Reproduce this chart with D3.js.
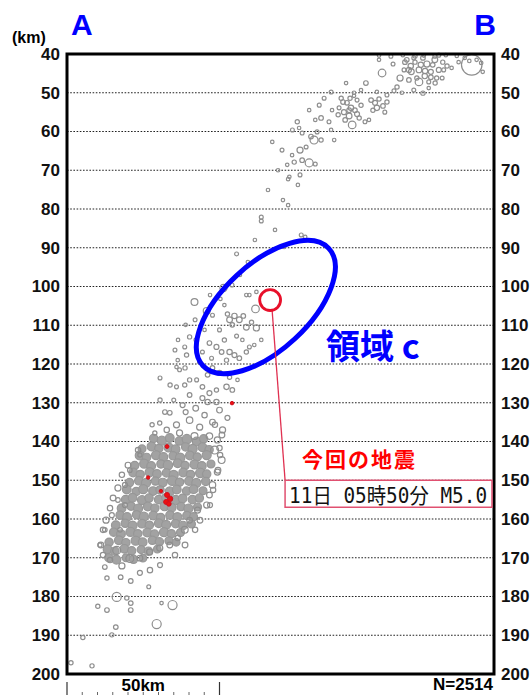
<!DOCTYPE html>
<html>
<head>
<meta charset="utf-8">
<script src="https://cdn.jsdelivr.net/npm/d3@7"></script>
<style>
  body { margin: 0; background: #fff; }
  svg { display: block; }
  .tick-label text { font-family: "Liberation Sans", Arial, sans-serif; font-size: 17px; font-weight: bold; fill: #111; }
</style>
</head>
<body>
<div id="chart"></div>
<script>
// depth ticks (km)
const depthTicks = [40, 50, 60, 70, 80, 90, 100, 110, 120, 130, 140, 150, 160, 170, 180, 190, 200];
const gridDepths = [50, 60, 70, 80, 90, 100, 110, 120, 130, 140, 150, 160, 170, 180, 190];
const eventCount = 2514;

// [distance along A-B (km), depth (km), magnitude]
const shallowEvents = [
  [132.7,42.8,4.9],
  [102.3,41.5,0.3],[103.3,44.9,1.4],[115.4,47.2,1.4],[108.2,48.5,0.5],
  [102.3,40.4,0.3],[106.2,40.6,0.4],[110.1,40.3,0.3],[114.1,40.5,0.5],[117.0,40.4,0.3],[120.6,40.6,0.4],[124.2,40.3,0.3],[127.8,40.5,0.3],
  [111.4,41.5,0.6],[112.7,43.1,0.8],[114.1,42.1,0.5],[115.4,44.1,0.9],[116.7,41.0,0.6],[118.0,42.6,1.0],[119.3,44.6,0.7],[120.6,41.5,0.9],
  [112.1,46.7,0.6],[114.7,46.2,0.5],[117.3,45.7,0.8],[118.6,47.2,0.4],[119.9,42.8,0.6],[121.9,44.1,0.7],[123.2,42.1,0.5],[110.5,44.1,0.4],
  [116.0,42.8,0.8],[121.2,46.2,0.5],[113.7,41.0,0.4],[112.9,44.6,0.9],
  [110.8,42.1,0.6],[112.1,44.1,0.7],[117.4,44.4,0.8],[119.3,46.0,0.6],[120.7,47.5,0.5],[123.0,46.2,0.4],[124.6,43.1,0.5],[109.2,46.2,1.0],[106.9,42.6,0.4],
  [123.5,44.1,0.4],[126.1,43.6,0.3],[128.4,42.1,0.3],[130.4,41.0,0.3],[134.3,41.5,0.3],[136.3,44.6,0.3],[121.9,40.3,0.4],[131.9,41.8,0.3],[135.8,42.3,0.3],
  [98.0,47.5,0.6],
  [86.6,49.8,0.4],[91.5,47.5,0.3],[94.1,50.0,0.3],[96.4,49.3,0.3],[107.2,49.5,0.4],[109.8,50.0,0.3],[113.7,49.3,0.4],[116.7,50.1,0.5],
  [118.6,48.8,0.3],[101.6,49.8,0.3],[104.9,50.6,0.4],
  [89.9,51.4,0.5],[91.8,52.6,0.6],[93.1,53.9,0.8],[90.8,55.0,0.7],[92.5,56.0,0.9],[94.4,54.5,0.6],[95.1,51.9,0.4],[95.8,56.5,0.5],
  [91.2,57.0,0.6],[93.5,58.3,1.4],[97.7,57.5,0.4],[89.2,53.9,0.4],[96.4,53.2,0.5],[94.1,50.8,0.3],
  [90.5,52.4,0.6],[92.8,51.4,0.5],[95.1,55.5,0.7],[92.5,54.5,0.6],[88.9,55.7,0.5],
  [99.7,51.9,0.6],[101.0,52.6,0.7],[102.3,51.6,0.5],[103.6,53.4,0.6],[101.6,53.9,0.8],[104.2,55.0,0.4],[100.3,54.5,0.5],[104.9,52.4,0.5],
  [82.7,53.2,0.4],[79.4,54.5,0.3],[75.5,57.5,0.5],[81.4,57.0,0.3],[85.9,57.5,0.4],[83.3,56.5,0.6],[86.9,54.5,0.3],[84.3,51.4,0.4],[99.0,57.0,0.3],
  [73.9,59.6,0.4],[77.1,60.4,0.4],[86.6,59.6,0.3],[81.0,62.2,1.5],[83.3,62.2,0.5],[78.4,64.0,0.4],[87.6,62.2,0.3],[67.3,62.7,0.3],
  [76.1,59.1,0.3],[82.0,60.1,0.4],[80.0,61.3,0.6],
  [70.5,64.8,0.4],[73.8,66.1,0.3],[76.4,64.8,1.0],
  [74.5,67.9,0.5],[79.4,68.1,1.5],[72.2,68.6,0.3],[77.1,67.4,0.6],[81.4,68.4,0.4],[72.9,71.7,0.3],
  [69.2,70.0,0.3],[75.7,73.8,0.3],[76.4,71.2,0.4],[65.9,75.1,0.3],[70.8,77.7,0.3],
  [72.5,72.3,0.3],[72.5,79.0,0.3],[63.7,82.1,0.4],[63.7,83.1,0.4],[76.8,86.7,0.4],[78.1,87.2,0.3],[71.2,89.8,0.3],[55.6,91.6,0.4],
  [68.2,85.4,0.3],[61.6,88.0,0.3],[59.3,93.7,0.3]
];

const wedgeEvents = [
  [56.7,97.0,0.3],[54.1,99.6,0.4],[46.9,102.2,0.3],
  [51.3,100.4,1.3],[41.8,104.0,1.2],[45.8,106.3,1.2],[50.3,103.2,0.3],[51.6,104.8,0.3],[47.7,107.4,0.4],[61.8,105.8,1.4],[58.8,102.2,0.3],
  [59.8,102.2,0.3],[62.1,101.4,0.3],
  [53.3,108.6,0.9],[54.9,107.6,0.8],[56.5,108.6,0.9],[57.8,107.6,0.6],[58.8,110.5,0.9],[60.5,109.2,0.5],[62.1,110.7,1.0],[52.6,107.1,0.5],
  [54.2,109.9,0.6],[50.0,111.2,0.4],[42.0,108.6,0.4],[38.9,109.9,0.3],
  [40.2,113.0,0.5],[38.6,115.6,0.4],[39.2,117.7,0.5],[42.2,113.8,0.3],[46.7,114.6,0.6],[49.0,115.6,0.7],[50.7,116.9,0.6],[53.3,116.9,0.8],
  [54.9,117.7,0.7],[56.5,118.5,0.6],[52.3,119.0,0.5],[58.8,116.9,0.5],[59.8,115.6,0.4],[35.4,116.4,0.4],[36.4,113.8,0.3],
  [47.7,121.0,0.6],[50.0,122.3,0.7],[53.3,123.4,0.5],[46.1,122.8,0.6],[36.9,121.5,0.4],[43.5,119.5,0.5],[47.4,118.5,0.4],[57.5,113.8,0.3],
  [55.6,112.8,0.4],[63.7,113.8,0.3],[61.4,115.1,0.3],[51.6,113.8,0.5],[45.1,111.2,0.3],[44.4,116.9,0.4],[36.3,119.0,0.3],[35.9,120.8,0.3],
  [38.7,121.0,0.5],[33.8,125.4,0.5],[30.5,123.6,0.4],
  [40.2,124.1,0.5],[44.4,125.9,0.6],[46.7,127.5,0.7],[49.0,126.7,0.5],[52.3,125.9,0.8],[54.2,126.7,0.6],[35.9,125.9,0.4],[40.2,128.0,0.6],
  [44.4,128.8,0.7],[49.0,129.8,0.8],[38.6,125.4,0.5],[42.5,124.1,0.4],[55.9,124.1,0.3],
  [30.5,129.3,0.5],[32.1,132.4,0.6],[27.9,135.7,0.5],
  [33.7,132.6,0.6],[37.9,130.6,0.7],[42.2,131.4,0.9],[46.1,129.8,0.8],[50.0,131.9,0.9],[52.6,133.9,0.7],[30.4,135.2,0.5],[32.7,137.0,0.8],
  [35.9,135.7,1.0],[40.2,134.5,1.1],[43.5,136.3,1.0],[47.7,135.0,0.9],[51.0,137.0,1.0],[36.9,137.8,1.0],[41.8,138.6,1.2],[46.7,138.6,1.1],
  [49.3,139.6,1.0],[28.8,137.8,0.5],[45.1,133.2,0.8],[38.9,132.4,0.7],[35.0,129.3,0.4],[48.5,135.7,0.8],[50.8,138.3,0.9]
];

// densest part of the nest, 139-171 km
const clusterEvents = [
  [28.4,139.2,1.6],[31.1,139.8,1.8],[33.7,139.1,1.7],[36.8,139.9,1.6],[39.3,139.4,1.9],[42.5,140.0,1.7],[44.8,139.3,1.6],
  [24.6,141.9,1.5],[27.7,141.3,1.7],[30.1,141.8,1.6],[33.3,141.5,1.8],[35.6,142.0,1.7],[38.9,141.4,1.6],[41.2,141.9,1.8],[44.4,141.5,1.7],[46.6,142.1,1.6],
  [23.8,143.6,1.7],[26.1,144.1,1.6],[29.2,143.5,1.8],[31.6,144.0,1.7],[34.8,143.7,1.6],[37.1,144.2,1.9],[40.3,143.6,1.7],[42.7,144.0,1.6],[45.8,143.5,1.8],
  [22.2,146.2,1.6],[25.3,145.7,1.8],[27.6,146.3,1.7],[30.8,145.8,1.6],[33.1,146.1,1.9],[36.3,145.6,1.7],[38.7,146.2,1.6],[41.8,145.9,1.8],[44.2,146.3,1.7],[47.2,145.8,1.5],
  [21.7,148.0,1.7],[24.0,148.5,1.6],[27.1,147.9,1.8],[29.5,148.4,1.7],[32.6,148.1,1.6],[35.0,148.6,1.8],[38.1,148.0,1.7],[40.5,148.5,1.6],[43.7,148.1,1.9],[45.8,148.4,1.6],
  [20.5,150.6,1.6],[23.6,150.1,1.7],[25.9,150.7,1.8],[29.0,150.2,1.6],[31.4,150.6,1.7],[34.5,150.1,1.9],[36.9,150.5,1.6],[40.0,150.2,1.7],[42.4,150.7,1.8],[45.5,150.3,1.6],
  [19.6,152.4,1.7],[22.7,152.9,1.6],[25.0,152.3,1.8],[28.2,152.8,1.7],[30.5,152.5,1.6],[33.7,152.9,1.8],[36.0,152.4,1.7],[39.2,152.8,1.6],[41.5,152.3,1.7],[44.6,152.7,1.5],
  [19.2,155.0,1.6],[21.5,154.5,1.7],[24.6,155.1,1.8],[26.9,154.6,1.6],[30.1,155.0,1.7],[32.4,154.5,1.6],[35.6,155.1,1.9],[37.9,154.7,1.7],[41.1,155.0,1.6],[43.4,154.6,1.6],
  [17.9,157.2,1.7],[21.0,156.7,1.6],[23.3,157.3,1.8],[26.5,156.8,1.7],[28.8,157.2,1.6],[32.0,156.7,1.8],[34.3,157.1,1.7],[37.4,156.8,1.6],[39.8,157.3,1.8],[42.8,156.9,1.5],
  [17.4,159.0,1.6],[19.7,159.5,1.7],[22.8,158.9,1.6],[25.2,159.4,1.8],[28.3,159.1,1.7],[30.7,159.6,1.6],[33.8,159.0,1.7],[36.2,159.5,1.8],[39.3,159.1,1.6],[41.5,159.4,1.5],
  [16.0,161.6,1.7],[19.1,161.1,1.6],[21.5,161.7,1.8],[24.6,161.2,1.7],[27.0,161.6,1.6],[30.1,161.1,1.7],[32.5,161.5,1.8],[35.6,161.2,1.6],[38.0,161.7,1.7],[40.8,161.3,1.5],
  [15.3,163.4,1.6],[17.7,163.9,1.7],[20.8,163.3,1.8],[23.2,163.8,1.6],[26.3,163.5,1.7],[28.7,163.9,1.6],[31.8,163.4,1.8],[34.2,163.8,1.6],[37.2,163.5,1.5],
  [13.8,166.0,1.6],[17.0,165.5,1.7],[19.3,166.1,1.6],[22.5,165.6,1.8],[24.8,166.0,1.7],[28.0,165.5,1.6],[30.3,165.9,1.6],[33.4,165.6,1.5],[35.8,166.0,1.4],
  [13.3,167.8,1.7],[15.7,168.3,1.6],[18.8,167.7,1.7],[21.2,168.2,1.6],[24.3,167.9,1.5],[26.7,168.3,1.6],[29.6,167.8,1.4],
  [13.7,170.0,1.6],[16.2,170.5,1.7],[19.4,170.0,1.5],[21.8,170.4,1.6],[24.9,170.1,1.4]
];

const deepEvents = [
  [48.4,142.2,1.5],[50.7,144.8,1.2],[49.3,147.9,1.0],[47.7,151.2,1.1],[46.7,153.8,0.9],[50.0,141.7,0.8],[45.8,156.4,1.0],
  [50.2,143.5,0.8],[49.5,147.4,0.9],[47.9,152.5,0.8],[46.9,156.4,0.7],[43.6,160.3,0.9],[42.0,162.8,0.8],[38.7,166.7,0.9],[35.4,169.3,0.8],
  [30.5,171.9,0.7],[27.2,173.2,0.8],
  [20.6,147.4,0.6],[19.0,151.2,0.7],[16.7,155.1,0.6],[14.7,159.0,0.7],[12.4,162.8,0.6],[10.8,166.7,0.5],[23.9,143.5,0.5],
  [23.3,142.2,0.8],[20.0,146.1,0.9],[18.0,148.6,0.8],[16.7,152.0,1.0],[15.1,154.6,0.9],[14.1,157.2,0.8],[12.8,160.3,1.0],[11.8,162.8,0.8],
  [11.1,166.7,0.9],[11.8,169.3,0.8],[19.0,156.4,0.7],[17.4,162.8,0.6],
  [16.3,168.1,1.5],[20.6,170.2,1.5],[14.1,170.6,0.8],[23.9,170.1,0.9],[18.0,172.1,1.0],[27.1,168.5,1.0],[30.4,167.5,1.0],[33.7,166.7,0.9],
  [36.3,164.9,0.8],[38.6,162.8,1.2],[40.2,160.3,0.9],[42.8,157.7,1.0],
  [12.4,172.4,0.6],[13.1,175.2,0.5],[17.6,175.0,0.6],[20.9,176.0,0.6],[23.9,173.9,0.7],[26.8,177.5,0.4],[16.3,180.1,1.8],[19.6,180.4,0.5],
  [10.1,182.5,0.5],[13.1,183.5,0.6],[20.9,181.7,0.6],[20.9,183.5,0.6],[31.0,181.7,0.3],[34.6,182.2,1.8],[16.0,187.9,0.6],[29.4,187.1,1.8],
  [14.7,189.9,0.5],[5.2,190.6,0.5],[1.3,197.1,0.5],[8.2,197.9,0.5]
];

// events of the last days (red)
const recentEvents = [
  [32.8,153.8,0.7],[33.8,154.8,0.8],[32.5,155.6,0.7],[33.4,156.1,0.6],[32.8,141.3,0.4],[26.6,149.3,0.3],[30.8,152.8,0.3],[54.1,130.1,0.3]
];

const mainShock = { dist: 66.6, depth: 103.5, mag: 5.0, label: '11日 05時50分 M5.0', title: '今回の地震' };
const calloutCorner = [71.5, 150]; // top-left of the label box
const region = { name: '領域 c', dist: 65.2, depth: 105.3 };

const width = 531;
const height = 695;

const svg = d3.select('#chart')
  .append('svg')
  .attr('width', width)
  .attr('height', height);

// distance scale
const x = d3.scaleLinear().domain([0, 140]).range([67, 494]);
// depth scale
const y = d3.scaleLinear().domain([40, 200]).range([54, 674]);
// magnitude -> radius
const r = d3.scaleLinear().domain([0, 5]).range([1.2, 10.45]);

// grid lines
svg.append('g')
  .selectAll('line')
  .data(gridDepths)
  .enter()
  .append('line')
  .attr('x1', x(0))
  .attr('x2', x(140))
  .attr('y1', d => y(d))
  .attr('y2', d => y(d))
  .attr('stroke', '#222')
  .attr('stroke-width', 1.2)
  .attr('stroke-dasharray', '1.6,1.6');

// hypocentres
const drawEvents = (data, fill, stroke) => {
  svg.append('g')
    .selectAll('circle')
    .data(data)
    .enter()
    .append('circle')
    .attr('cx', d => x(d[0]))
    .attr('cy', d => y(d[1]))
    .attr('r', d => r(d[2]))
    .attr('fill', fill)
    .attr('stroke', stroke)
    .attr('stroke-width', 1.2);
};

drawEvents(clusterEvents, '#a2a2a2', '#979797');
drawEvents(deepEvents, 'none', '#8e8e8e');
drawEvents(wedgeEvents, 'none', '#8e8e8e');
drawEvents(shallowEvents, 'none', '#8e8e8e');

svg.append('g')
  .selectAll('circle')
  .data(recentEvents)
  .enter()
  .append('circle')
  .attr('cx', d => x(d[0]))
  .attr('cy', d => y(d[1]))
  .attr('r', d => r(d[2]))
  .attr('fill', '#ee1010')
  .attr('stroke', '#d01020')
  .attr('stroke-width', 1);

// frame
svg.append('rect')
  .attr('x', x(0))
  .attr('y', y(40))
  .attr('width', x(140) - x(0))
  .attr('height', y(200) - y(40))
  .attr('fill', 'none')
  .attr('stroke', '#000')
  .attr('stroke-width', 3);

// axes
const yAxisL = d3.axisLeft(y).tickValues(depthTicks).tickSize(0).tickPadding(7);
const yAxisR = d3.axisRight(y).tickValues(depthTicks).tickSize(0).tickPadding(7);

svg.append('g')
  .classed('tick-label', true)
  .attr('transform', 'translate(' + x(0) + ',0)')
  .call(yAxisL)
  .call(g => g.select('.domain').remove());

svg.append('g')
  .classed('tick-label', true)
  .attr('transform', 'translate(' + x(140) + ',0)')
  .call(yAxisR)
  .call(g => g.select('.domain').remove());

svg.selectAll('.tick-label text').attr('font-family', null).attr('font-size', null);

svg.append('text')
  .attr('x', 12)
  .attr('y', 43)
  .attr('font-family', 'Liberation Sans, Arial, sans-serif')
  .attr('font-size', 16)
  .attr('font-weight', 'bold')
  .text('(km)');

// section end labels
svg.append('text')
  .attr('x', 71)
  .attr('y', 35)
  .attr('font-family', 'Liberation Sans, Arial, sans-serif')
  .attr('font-size', 30)
  .attr('font-weight', 'bold')
  .attr('fill', '#0000ff')
  .text('A');

svg.append('text')
  .attr('x', 496)
  .attr('y', 35)
  .attr('text-anchor', 'end')
  .attr('font-family', 'Liberation Sans, Arial, sans-serif')
  .attr('font-size', 30)
  .attr('font-weight', 'bold')
  .attr('fill', '#0000ff')
  .text('B');

// distance scale bar
const bar = svg.append('g');
bar.selectAll('line.major')
  .data([0, 50])
  .enter()
  .append('line')
  .attr('x1', d => x(d))
  .attr('x2', d => x(d))
  .attr('y1', 682)
  .attr('y2', 695)
  .attr('stroke', '#333')
  .attr('stroke-width', 1.2);
bar.selectAll('line.minor')
  .data(d3.range(5, 50, 5))
  .enter()
  .append('line')
  .attr('x1', d => x(d))
  .attr('x2', d => x(d))
  .attr('y1', 692)
  .attr('y2', 695)
  .attr('stroke', '#666')
  .attr('stroke-width', 1);
bar.append('text')
  .attr('x', x(25))
  .attr('y', 691)
  .attr('text-anchor', 'middle')
  .attr('font-family', 'Liberation Sans, Arial, sans-serif')
  .attr('font-size', 17)
  .attr('font-weight', 'bold')
  .text('50km');

svg.append('text')
  .attr('x', x(140) - 1)
  .attr('y', 690)
  .attr('text-anchor', 'end')
  .attr('font-family', 'Liberation Sans, Arial, sans-serif')
  .attr('font-size', 17)
  .attr('font-weight', 'bold')
  .text('N=' + eventCount);

// region ellipse
svg.append('ellipse')
  .attr('cx', 0)
  .attr('cy', 0)
  .attr('rx', 86)
  .attr('ry', 43)
  .attr('transform', 'translate(' + x(region.dist) + ',' + y(region.depth) + ') rotate(-43)')
  .attr('fill', 'none')
  .attr('stroke', '#0000ff')
  .attr('stroke-width', 5);

svg.append('text')
  .attr('x', 326)
  .attr('y', 359)
  .attr('font-family', 'Noto Sans CJK JP, sans-serif')
  .attr('font-size', 34)
  .attr('font-weight', 'bold')
  .attr('fill', '#0000ff')
  .text(region.name);

// main shock and callout
const mx = x(mainShock.dist);
const my = y(mainShock.depth);
const bx = x(calloutCorner[0]);
const by = y(calloutCorner[1]);

svg.append('line')
  .attr('x1', mx + 2)
  .attr('y1', my + r(mainShock.mag))
  .attr('x2', bx)
  .attr('y2', by)
  .attr('stroke', '#e03050')
  .attr('stroke-width', 1.3);

svg.append('circle')
  .attr('cx', mx)
  .attr('cy', my)
  .attr('r', r(mainShock.mag))
  .attr('fill', 'none')
  .attr('stroke', '#e8102a')
  .attr('stroke-width', 2.8);

svg.append('rect')
  .attr('x', bx)
  .attr('y', by)
  .attr('width', x(140) - bx - 2)
  .attr('height', 27)
  .attr('fill', '#fff')
  .attr('stroke', '#e05070')
  .attr('stroke-width', 1.5);

svg.append('text')
  .attr('x', bx + 4)
  .attr('y', by + 23)
  .attr('font-family', 'DejaVu Sans Mono, Noto Sans CJK JP, monospace')
  .attr('font-size', 21)
  .attr('textLength', 198)
  .attr('lengthAdjust', 'spacingAndGlyphs')
  .attr('fill', '#111')
  .text(mainShock.label);

svg.append('text')
  .attr('x', 302)
  .attr('y', 467)
  .attr('font-family', 'Noto Sans CJK JP, sans-serif')
  .attr('font-size', 21)
  .attr('font-weight', 'bold')
  .attr('letter-spacing', 2)
  .attr('fill', '#ff0000')
  .text(mainShock.title);
</script>
</body>
</html>
